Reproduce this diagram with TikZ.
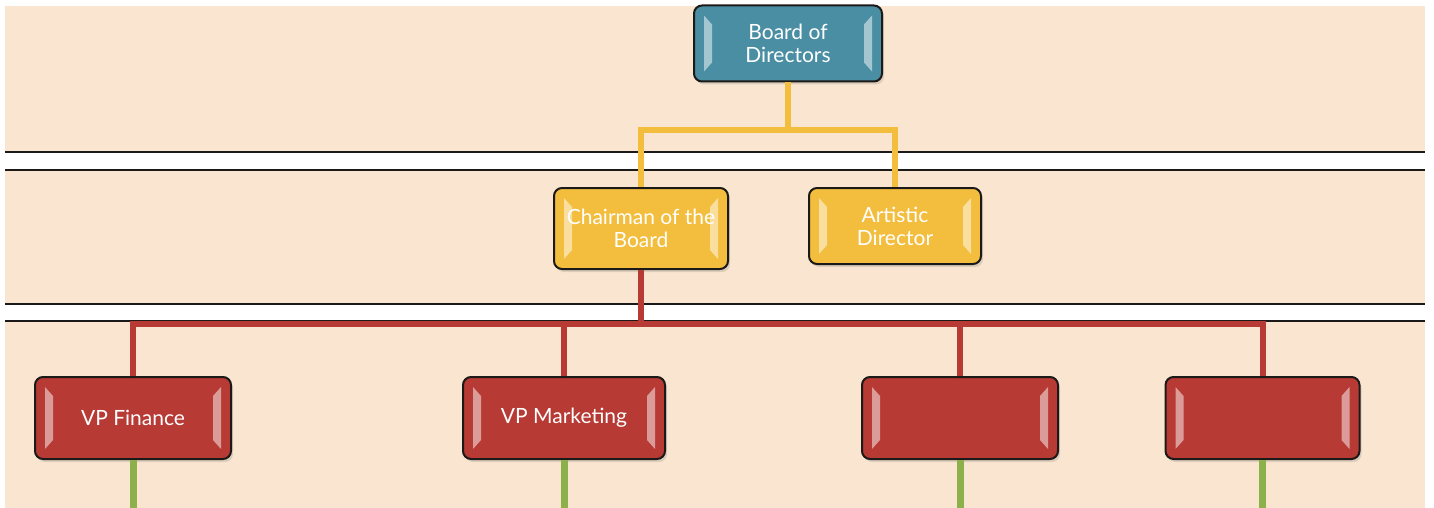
\documentclass[tikz,border=0pt]{standalone}
\usepackage{fontspec}
\setmainfont{Lato}
\usetikzlibrary{shadows}

\definecolor{fondo}{HTML}{FAE6D0}
\definecolor{azul}{HTML}{4A8EA4}
\definecolor{amarillo}{HTML}{F3BD3E}
\definecolor{rojo}{HTML}{B73A34}
\definecolor{verde}{HTML}{8DB14A}
\definecolor{borde}{HTML}{1C1A18}

\tikzset{
  bisel/.style={path picture={
      \fill[white,opacity=.5,sharp corners]
        ([shift={(5pt,-5pt)}]path picture bounding box.north west)
        -- ([shift={(9pt,-9.5pt)}]path picture bounding box.north west)
        -- ([shift={(9pt,9.5pt)}]path picture bounding box.south west)
        -- ([shift={(5pt,5pt)}]path picture bounding box.south west) -- cycle;
      \fill[white,opacity=.5,sharp corners]
        ([shift={(-5pt,-5pt)}]path picture bounding box.north east)
        -- ([shift={(-9pt,-9.5pt)}]path picture bounding box.north east)
        -- ([shift={(-9pt,9.5pt)}]path picture bounding box.south east)
        -- ([shift={(-5pt,5pt)}]path picture bounding box.south east) -- cycle;
    }},
  caja/.style={bisel, draw=borde, line width=1pt, rounded corners=4pt,
    text=white, align=center, inner sep=0pt,
    font=\fontsize{10.5}{11.5}\selectfont,
    drop shadow={opacity=.25, shadow xshift=1pt, shadow yshift=-1.5pt}},
  franja/.style={draw=borde, line width=1pt},
  lineaA/.style={amarillo, line width=3pt},
  lineaB/.style={rojo, line width=3pt},
  lineaC/.style={verde, line width=3.5pt}
}

\begin{document}
\begin{tikzpicture}[x=0.5pt, y=-0.5pt]
  \useasboundingbox (0,0) rectangle (1434,508);
  % Fondo y franjas
  \fill[fondo] (5,6) rectangle (1425,508);
  \fill[white] (5,152) rectangle (1425,170);
  \fill[white] (5,304) rectangle (1425,321);
  \foreach \y in {152,170,304,321}
    \draw[franja] (5,\y) -- (1425,\y);

  % Cajas
  \node[caja, fill=azul, minimum width=94pt, minimum height=38pt]
    (board) at (788,43.5) {Board of\\Directors};
  \node[caja, fill=amarillo, minimum width=87pt, minimum height=40.5pt]
    (chair) at (641,228.5) {Chairman of the\\Board};
  \node[caja, fill=amarillo, minimum width=86pt, minimum height=38pt]
    (artistic) at (895,226) {Artistic\\Director};
  \node[caja, fill=rojo, minimum width=98pt, minimum height=41pt]
    (finance) at (133,418) {VP Finance};
  \node[caja, fill=rojo, minimum width=101pt, minimum height=41pt]
    (marketing) at (564,418) {VP Marketing};
  \node[caja, fill=rojo, minimum width=98pt, minimum height=41pt]
    (vp3) at (960,418) {};
  \node[caja, fill=rojo, minimum width=97pt, minimum height=41pt]
    (vp4) at (1262.5,418) {};

  % Conectores
  \coordinate (nudoA) at (788,130);
  \coordinate (nudoB) at (641,324);
  \coordinate (pie) at (0,508);
  \draw[lineaA] (board.south) -- (nudoA);
  \draw[lineaA] (chair.north) |- (nudoA) -| (artistic.north);
  \draw[lineaB] (chair.south) -- (nudoB);
  \draw[lineaB] (finance.north) |- (nudoB) -| (vp4.north);
  \draw[lineaB] (marketing.north) |- (nudoB);
  \draw[lineaB] (vp3.north) |- (nudoB);
  \foreach \n in {finance,marketing,vp3,vp4}
    \draw[lineaC] (\n.south) -- (\n.south |- pie);
\end{tikzpicture}
\end{document}
